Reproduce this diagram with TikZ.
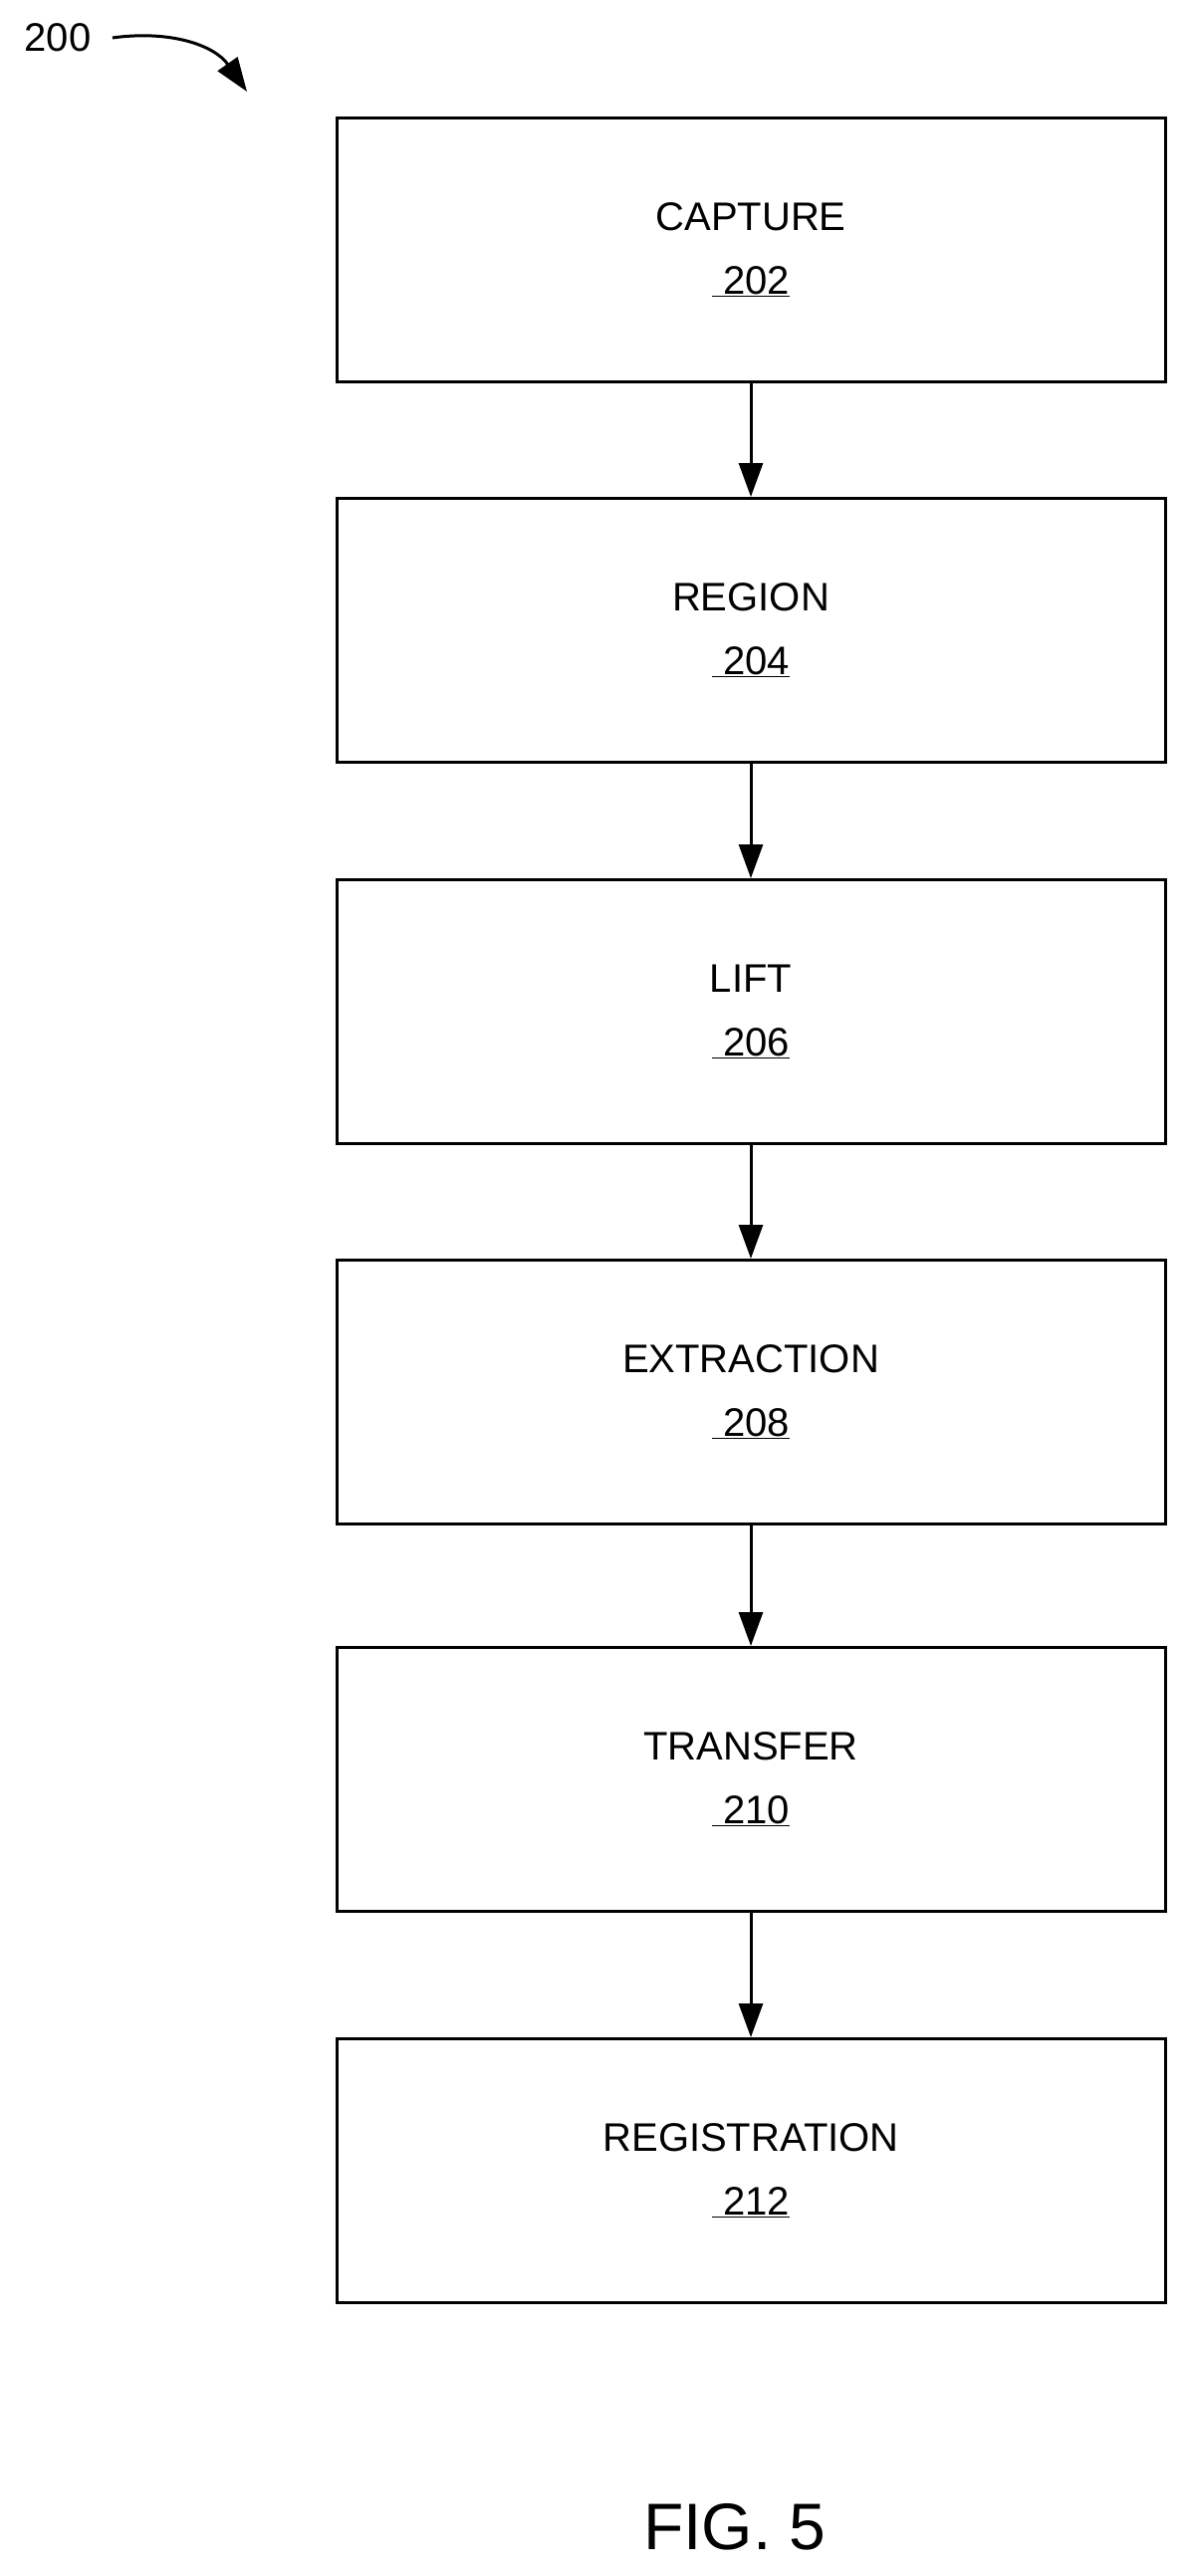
\documentclass[tikz,border=0pt]{standalone}
\usepackage{fontspec}
\setmainfont{Liberation Sans}
\usetikzlibrary{arrows.meta}
\begin{document}
\begin{tikzpicture}[x=1pt,y=-1pt,
  stepbox/.style={draw,line width=3pt,minimum width=832pt,minimum height=265pt,align=center,font=\fontsize{40}{64}\selectfont},
  conn/.style={line width=3pt,-{Triangle[length=34pt,width=24pt]}}]
\useasboundingbox (0,0) rectangle (1195,2587);
\node[stepbox] (a) at (754,251) {CAPTURE\\\underline{\ 202}};
\node[stepbox] (b) at (754,633) {REGION\\\underline{\ 204}};
\node[stepbox] (c) at (754,1016) {LIFT\\\underline{\ 206}};
\node[stepbox] (d) at (754,1398) {EXTRACTION\\\underline{\ 208}};
\node[stepbox] (e) at (754,1787) {TRANSFER\\\underline{\ 210}};
\node[stepbox] (f) at (754,2180) {REGISTRATION\\\underline{\ 212}};
\foreach \u/\v in {a/b,b/c,c/d,d/e,e/f} \draw[conn] (\u) -- (\v);
\node[font=\fontsize{40}{48}\selectfont] (n) at (58,38) {200};
\coordinate (t) at (248,92);
\draw[conn] (n.east) ++(18,0) .. controls (170,30) and (215,45) .. (t);
\node[font=\fontsize{66}{80}\selectfont] (fig) at (738,2538) {FIG. 5};
\end{tikzpicture}
\end{document}
